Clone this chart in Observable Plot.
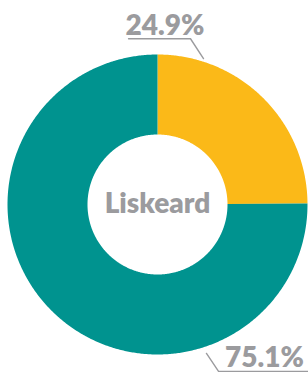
<!DOCTYPE html>
<html>
<head>
<meta charset="utf-8">
<script src="https://cdn.jsdelivr.net/npm/d3@7"></script>
<script src="https://cdn.jsdelivr.net/npm/@observablehq/plot@0.6"></script>
<style>
  html, body { margin: 0; padding: 0; background: #fff; }
  #chart svg { display: block; }
</style>
</head>
<body>
<div id="chart"></div>
<script>
// ---- data ----
const categories = ["Other", "Liskeard share"];
const values = [24.9, 75.1];
const colors = ["#FBB918", "#00938F"];
const centerLabel = "Liskeard";

// ---- geometry (data units: outer radius = 1) ----
const innerR = 70 / 150;
const total = d3.sum(values);
const gray = "#9B9B9E";
const font = "Lato, 'Open Sans', sans-serif";

// slice angles, clockwise from 12 o'clock
let acc = 0;
const slices = values.map((v, i) => {
  const a0 = acc / total * 2 * Math.PI;
  acc += v;
  const a1 = acc / total * 2 * Math.PI;
  return {name: categories[i], value: v, a0, a1};
});

// ring polygons
const ringPts = [];
for (const s of slices) {
  const n = Math.max(2, Math.ceil((s.a1 - s.a0) / (Math.PI / 360)));
  for (let k = 0; k <= n; k++) {
    const a = s.a0 + (s.a1 - s.a0) * k / n;
    ringPts.push({name: s.name, u: Math.sin(a), v: Math.cos(a)});
  }
  for (let k = n; k >= 0; k--) {
    const a = s.a0 + (s.a1 - s.a0) * k / n;
    ringPts.push({name: s.name, u: innerR * Math.sin(a), v: innerR * Math.cos(a)});
  }
}

// outside label layout: upper-half slices labelled above, lower-half below
const fmt = d => d3.format(".1f")(d) + "%";
const labels = [];
const leaders = [];
slices.forEach(s => {
  const mid = (s.a0 + s.a1) / 2;
  const top = Math.cos(mid) > 0;
  const L = top
    ? {tx: 0.05, ty: 1.133, ux0: -0.193, ux1: 0.22, uy: 1.105, ca: 17.5, cr: 1.02}
    : {tx: 0.713, ty: -1.08, ux0: 1.01, ux1: 0.407, uy: -1.113, ca: 161.8, cr: 1.045};
  labels.push({text: fmt(s.value), u: L.tx, v: L.ty});
  const ca = L.ca * Math.PI / 180;
  [[L.ux0, L.uy], [L.ux1, L.uy], [L.cr * Math.sin(ca), L.cr * Math.cos(ca)]]
    .forEach(([u, v]) => leaders.push({name: s.name, u, v}));
});

const chart = Plot.plot({
  width: 308,
  height: 372,
  margin: 0,
  x: {domain: [-1, 1], range: [7, 307], axis: null},
  y: {domain: [-1, 1], range: [354, 54], axis: null},
  color: {domain: categories, range: colors},
  style: {fontFamily: font, background: "#fff"},
  marks: [
    Plot.line(ringPts, {x: "u", y: "v", z: "name", fill: "name", stroke: "none"}),
    Plot.line(leaders, {x: "u", y: "v", z: "name", stroke: gray, strokeWidth: 1.4}),
    Plot.text(labels, {x: "u", y: "v", text: "text", fill: gray, fontSize: 28, fontWeight: 800,
      textAnchor: "middle", lineAnchor: "bottom"}),
    Plot.text([centerLabel], {x: [0], y: [0], text: d => d, fill: gray, fontSize: 28, fontWeight: 800,
      textAnchor: "middle", lineAnchor: "middle"})
  ]
});
document.getElementById("chart").appendChild(chart);
</script>
</body>
</html>
